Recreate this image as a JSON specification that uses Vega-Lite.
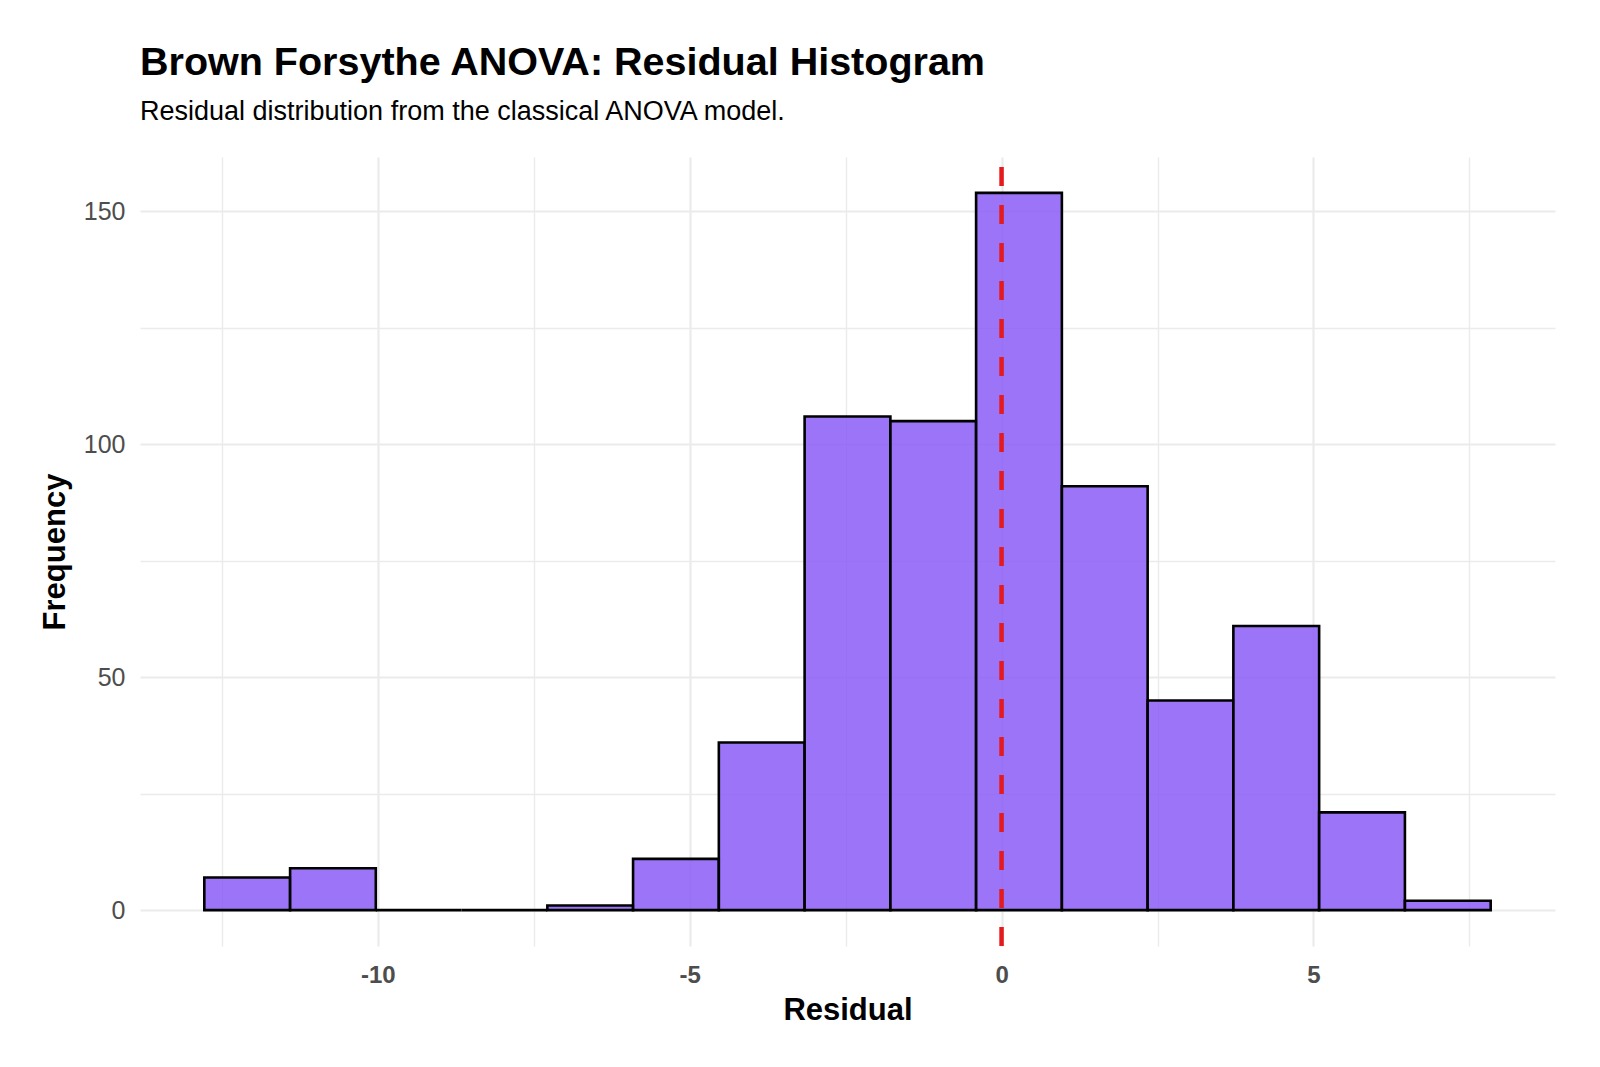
{
  "$schema": "https://vega.github.io/schema/vega-lite/v6.json",
  "width": 1415,
  "height": 789,
  "autosize": {"type": "none"},
  "padding": {"left": 140, "top": 157, "right": 45, "bottom": 121},
  "background": "white",
  "config": {
    "view": {"stroke": null},
    "font": "Liberation Sans"
  },
  "title": {
    "text": "Brown Forsythe ANOVA: Residual Histogram",
    "subtitle": "Residual distribution from the classical ANOVA model.",
    "anchor": "start",
    "frame": "group",
    "font": "Liberation Sans",
    "fontSize": 39.5,
    "fontWeight": "bold",
    "color": "#000000",
    "subtitleFont": "Liberation Sans",
    "subtitleFontSize": 27,
    "subtitleColor": "#000000",
    "subtitlePadding": 15,
    "offset": 29
  },
  "datasets": {
    "bins": [
      {"start": -12.780, "end": -11.405, "count": 7},
      {"start": -11.405, "end": -10.031, "count": 9},
      {"start": -10.031, "end": -8.656, "count": 0},
      {"start": -8.656, "end": -7.281, "count": 0},
      {"start": -7.281, "end": -5.907, "count": 1},
      {"start": -5.907, "end": -4.532, "count": 11},
      {"start": -4.532, "end": -3.157, "count": 36},
      {"start": -3.157, "end": -1.782, "count": 106},
      {"start": -1.782, "end": -0.408, "count": 105},
      {"start": -0.408, "end": 0.967, "count": 154},
      {"start": 0.967, "end": 2.342, "count": 91},
      {"start": 2.342, "end": 3.716, "count": 45},
      {"start": 3.716, "end": 5.091, "count": 61},
      {"start": 5.091, "end": 6.466, "count": 21},
      {"start": 6.466, "end": 7.841, "count": 2}
    ],
    "vline": [{"xintercept": 0, "ylo": -7.7, "yhi": 161.7}]
  },
  "layer": [
    {
      "data": {"name": "bins"},
      "mark": {"type": "bar", "fill": "#8B5CF6", "fillOpacity": 0.85, "stroke": "#000000", "strokeWidth": 2.6},
      "encoding": {
        "x": {
          "field": "start",
          "type": "quantitative",
          "scale": {"domain": [-13.811, 8.872], "nice": false, "zero": false},
          "axis": {
            "title": "Residual",
            "values": [-12.5, -10, -7.5, -5, -2.5, 0, 2.5, 5, 7.5],
            "labelExpr": "datum.value % 5 === 0 ? '' + datum.value : ''",
            "domain": false,
            "ticks": false,
            "tickSize": 0,
            "labelPadding": 17,
            "labelFont": "Liberation Sans",
            "labelFontSize": 24,
            "labelFontWeight": "bold",
            "labelColor": "#4D4D4D",
            "titleFont": "Liberation Sans",
            "titleFontSize": 31,
            "titleFontWeight": "bold",
            "titleColor": "#000000",
            "titlePadding": 8,
            "grid": true,
            "gridColor": "#EBEBEB",
            "gridWidth": {"condition": {"test": "datum.value % 5 === 0", "value": 2.2}, "value": 1.4}
          }
        },
        "x2": {"field": "end"},
        "y": {
          "field": "count",
          "type": "quantitative",
          "scale": {"domain": [-7.7, 161.7], "nice": false, "zero": false},
          "axis": {
            "title": "Frequency",
            "values": [0, 25, 50, 75, 100, 125, 150],
            "labelExpr": "datum.value % 50 === 0 ? '' + datum.value : ''",
            "domain": false,
            "ticks": false,
            "tickSize": 0,
            "labelPadding": 15,
            "labelFont": "Liberation Sans",
            "labelFontSize": 25,
            "labelColor": "#4D4D4D",
            "titleFont": "Liberation Sans",
            "titleFontSize": 31,
            "titleFontWeight": "bold",
            "titleColor": "#000000",
            "titlePadding": 12,
            "grid": true,
            "gridColor": "#EBEBEB",
            "gridWidth": {"condition": {"test": "datum.value % 50 === 0", "value": 2.2}, "value": 1.4}
          }
        },
        "y2": {"datum": 0}
      }
    },
    {
      "data": {"name": "vline"},
      "mark": {"type": "rule", "color": "#E41A1C", "strokeWidth": 4.5, "strokeDash": [19, 19]},
      "encoding": {
        "x": {"field": "xintercept", "type": "quantitative"},
        "y": {"field": "ylo", "type": "quantitative"},
        "y2": {"field": "yhi"}
      }
    }
  ]
}
